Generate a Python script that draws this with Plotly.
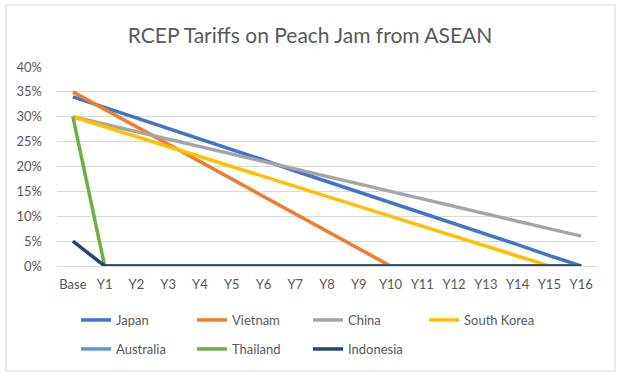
import plotly.graph_objects as go

categories = ["Base"] + [f"Y{i}" for i in range(1, 17)]

japan = [34, 31.9, 29.8, 27.6, 25.5, 23.4, 21.3, 19.1, 17.0, 14.9, 12.8, 10.6, 8.5, 6.4, 4.3, 2.1, 0]
vietnam = [35, 31.5, 28, 24.5, 21, 17.5, 14, 10.5, 7, 3.5, 0, 0, 0, 0, 0, 0, 0]
china = [30, 28.5, 27, 25.5, 24, 22.5, 21, 19.5, 18, 16.5, 15, 13.5, 12, 10.5, 9, 7.5, 6]
south_korea = [30, 28, 26, 24, 22, 20, 18, 16, 14, 12, 10, 8, 6, 4, 2, 0, 0]
australia = [None] + [0] * 16
thailand = [30] + [0] * 16
indonesia = [5] + [0] * 16

series = [
    ("Japan", japan, "#4472C4", "legend"),
    ("Vietnam", vietnam, "#ED7D31", "legend"),
    ("China", china, "#A5A5A5", "legend"),
    ("South Korea", south_korea, "#FFC000", "legend"),
    ("Australia", australia, "#5B9BD5", "legend2"),
    ("Thailand", thailand, "#70AD47", "legend2"),
    ("Indonesia", indonesia, "#264478", "legend2"),
]

FONT = "Lato"
TXT = "#595959"

fig = go.Figure()
for name, vals, color, leg in series:
    fig.add_trace(go.Scatter(
        x=categories, y=vals, name=name, mode="lines",
        line=dict(color=color, width=3.5), legend=leg,
    ))

W, H = 628, 380
L, R, T, B = 57, 597, 67, 266
pw, ph = R - L, B - T

def px(x):
    return (x - L) / pw

def py(y):
    return (B - y) / ph

legend_common = dict(
    orientation="h", xanchor="left", yanchor="middle",
    entrywidth=71, entrywidthmode="pixels",
    font=dict(family=FONT, size=13, color=TXT),
    bgcolor="rgba(0,0,0,0)", borderwidth=0, itemwidth=30,
)

fig.update_layout(
    width=W, height=H,
    margin=dict(l=L, r=W - R, t=T, b=H - B),
    paper_bgcolor="white", plot_bgcolor="white",
    title=dict(text="RCEP Tariffs on Peach Jam from ASEAN",
               font=dict(family=FONT, size=21, color=TXT),
               x=310 / W, xref="container", xanchor="center",
               y=1 - 36 / H, yref="container", yanchor="middle"),
    xaxis=dict(type="category", range=[-0.5, 16.5], showgrid=False,
               showline=True, linecolor="#D9D9D9", ticks="",
               ticklabelstandoff=6,
               tickfont=dict(family=FONT, size=13, color=TXT)),
    yaxis=dict(range=[0, 40], dtick=5, ticksuffix="%", showgrid=True,
               gridcolor="#D9D9D9", zeroline=False, ticks="",
               ticklabelstandoff=14,
               tickfont=dict(family=FONT, size=13, color=TXT)),
    legend=dict(x=px(76), y=py(320), **legend_common),
    legend2=dict(x=px(76), y=py(349), **legend_common),
    showlegend=True,
    shapes=[dict(type="rect", xref="paper", yref="paper",
                 x0=px(6), x1=px(615), y0=py(371), y1=py(5),
                 line=dict(color="#D9D9D9", width=1), layer="below")],
)

fig.write_html("out.html", config={"displayModeBar": False},
               post_script="document.body.style.margin='0';document.body.style.padding='0';")
